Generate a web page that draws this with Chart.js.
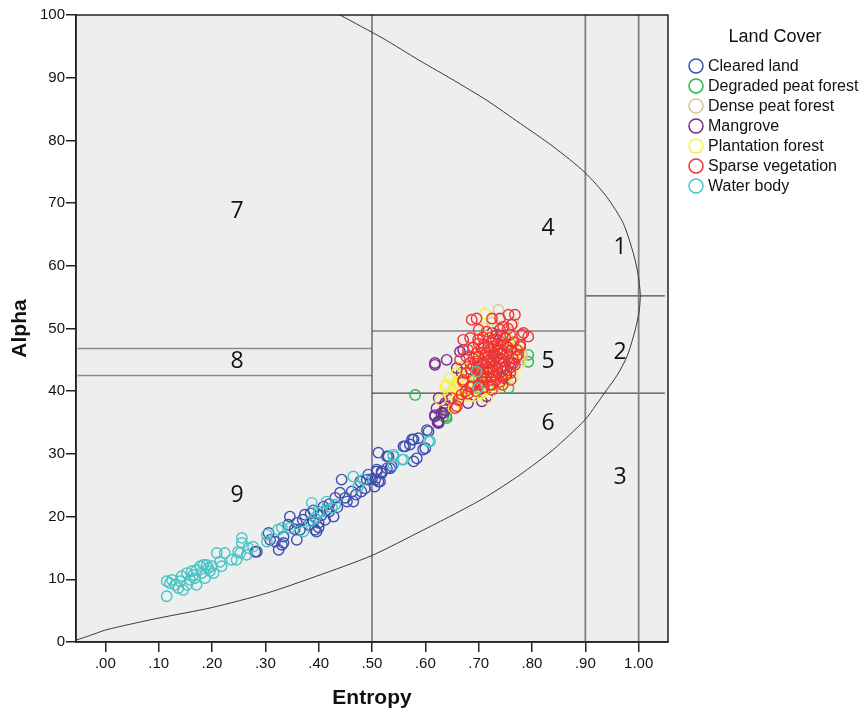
<!DOCTYPE html>
<html>
<head>
<meta charset="utf-8">
<script src="https://cdn.jsdelivr.net/npm/chart.js@4.4.0/dist/chart.umd.min.js"></script>
<style>
  body { margin: 0; background: #fff; }
</style>
</head>
<body>
<canvas id="chart" width="861" height="711"></canvas>
<script>
// tick values
const entropyTicks = [0, 0.1, 0.2, 0.3, 0.4, 0.5, 0.6, 0.7, 0.8, 0.9, 1.0];
const alphaTicks = [0, 10, 20, 30, 40, 50, 60, 70, 80, 90, 100];

const landCovers = ['Cleared land', 'Degraded peat forest', 'Dense peat forest', 'Mangrove',
                    'Plantation forest', 'Sparse vegetation', 'Water body'];

// [entropy, alpha] per land cover
const clearedLand = [
  [0.281,14.4],[0.306,17.4],[0.325,14.7],[0.334,15.8],[0.284,14.4],[0.309,16.3],[0.318,16.0],
  [0.331,15.5],[0.334,16.8],[0.343,18.7],[0.346,20.0],[0.359,19.0],[0.365,17.9],[0.374,20.3],
  [0.381,18.7],[0.393,17.9],[0.400,19.0],[0.409,21.6],[0.412,19.5],[0.428,20.0],[0.431,23.0],
  [0.440,23.8],[0.443,25.9],[0.453,22.4],[0.462,24.0],[0.465,22.4],[0.478,25.6],[0.487,24.5],
  [0.493,26.7],[0.509,27.2],[0.512,25.6],[0.518,26.9],[0.528,27.7],[0.359,16.3],[0.396,17.6],
  [0.512,30.2],[0.578,32.3],[0.562,31.2],[0.578,28.8],[0.531,29.6],[0.537,28.0],[0.515,25.6],
  [0.528,29.6],[0.509,27.5],[0.518,27.2],[0.534,27.7],[0.490,25.9],[0.506,25.9],[0.559,31.2],
  [0.571,31.5],[0.575,32.3],[0.587,32.5],[0.596,30.7],[0.606,33.6],[0.584,29.3],[0.625,34.9],
  [0.618,36.2],[0.603,33.8],[0.600,30.9],[0.370,19.5],[0.385,20.5],[0.390,19.2],[0.405,20.2],
  [0.415,21.0],[0.420,22.0],[0.435,21.5],[0.450,23.0],[0.470,23.5],[0.480,24.0],[0.355,18.0],
  [0.390,21.0],[0.400,18.3],[0.420,20.8],[0.500,26.0],[0.505,24.8]
];
const degradedPeat = [
  [0.581,39.4],[0.793,45.8],[0.756,40.5],[0.793,44.7],[0.640,35.7],[0.639,36.0],[0.634,36.0],
  [0.760,47.5],[0.700,42.0],[0.730,41.5]
];
const densePeat = [
  [0.737,53.0],[0.725,50.9],[0.765,50.9],[0.778,45.0],[0.781,46.1],[0.734,41.0],[0.725,51.4],
  [0.762,50.6],[0.781,45.5],[0.750,49.5],[0.710,47.0],[0.760,43.0],[0.680,42.5]
];
const mangrove = [
  [0.618,44.5],[0.640,45.0],[0.659,43.7],[0.671,46.6],[0.625,38.9],[0.621,37.3],[0.637,37.6],
  [0.646,38.6],[0.680,38.1],[0.706,38.4],[0.715,39.2],[0.752,43.4],[0.762,44.5],[0.728,48.2],
  [0.725,49.3],[0.668,42.9],[0.618,36.0],[0.634,36.5],[0.665,46.3],[0.752,42.6],[0.618,44.2],
  [0.637,38.1],[0.630,36.5],[0.690,39.4],[0.746,42.1],[0.623,35.0],[0.637,37.0],[0.625,35.2],
  [0.700,44.0],[0.720,43.0],[0.740,46.0],[0.690,41.0]
];
const plantation = [
  [0.637,40.7],[0.646,42.1],[0.650,40.0],[0.659,38.9],[0.628,38.6],[0.653,37.3],[0.671,39.4],
  [0.690,39.2],[0.665,40.7],[0.659,42.9],[0.668,43.9],[0.684,39.2],[0.709,40.0],[0.734,40.7],
  [0.752,41.5],[0.765,42.3],[0.778,44.5],[0.778,46.1],[0.756,48.2],[0.709,48.7],[0.715,50.3],
  [0.712,52.4],[0.680,41.5],[0.700,42.5],[0.720,44.0],[0.740,44.5],[0.760,45.5],[0.690,45.5],
  [0.730,47.0],[0.700,46.5],[0.660,41.5],[0.675,40.3],[0.720,42.0],[0.745,43.0],[0.770,47.0],
  [0.645,39.5],[0.655,40.5],[0.668,41.8],[0.680,43.2],[0.695,41.8],[0.705,39.6],[0.720,40.4],
  [0.640,41.0],[0.660,39.8],[0.715,38.8]
];
const sparseVeg = [
  [0.687,51.4],[0.696,51.6],[0.725,51.6],[0.740,51.6],[0.756,52.2],[0.768,52.2],[0.746,50.3],
  [0.762,50.6],[0.784,49.3],[0.793,48.7],[0.778,47.1],[0.671,48.2],[0.680,46.6],[0.665,45.0],
  [0.671,41.8],[0.687,40.7],[0.706,42.3],[0.725,41.0],[0.743,42.3],[0.774,45.8],[0.765,44.5],
  [0.659,37.6],[0.662,38.6],[0.650,38.9],[0.684,48.5],[0.699,48.2],[0.677,45.5],[0.684,44.5],
  [0.677,42.9],[0.671,41.5],[0.684,40.7],[0.656,37.3],[0.734,49.0],[0.759,49.0],[0.781,49.0],
  [0.778,47.4],[0.771,45.5],[0.768,44.2],[0.759,42.9],[0.740,41.5],[0.721,41.0],[0.706,42.1],
  [0.703,43.4],[0.715,46.1],[0.728,47.1],[0.746,47.4],[0.752,45.8],[0.740,44.5],[0.728,43.4],
  [0.715,42.3],[0.734,45.5],[0.721,45.0],[0.709,44.5],[0.696,43.9],[0.700,45.5],[0.710,47.5],
  [0.720,48.5],[0.730,46.0],[0.740,46.5],[0.750,44.0],[0.760,46.5],[0.750,48.5],[0.690,47.0],
  [0.720,43.5],[0.730,44.0],[0.745,43.2],[0.710,43.0],[0.690,42.2],[0.700,41.0],[0.730,42.5],
  [0.760,43.8],[0.765,47.8],[0.755,50.0],[0.700,49.8],[0.715,49.5],[0.685,43.5],[0.725,44.6],
  [0.735,43.8],[0.712,45.8],[0.727,45.8],[0.742,45.2],[0.698,44.8],[0.745,48.9],[0.705,46.8],
  [0.668,39.5],[0.676,40.0],[0.695,46.0],[0.705,44.2],[0.715,44.8],[0.725,47.8],[0.735,47.6],
  [0.745,46.0],[0.755,47.0],[0.738,42.8],[0.722,42.2],[0.708,41.5],[0.718,45.5],[0.728,44.9],
  [0.738,45.0],[0.748,44.8],[0.758,44.6],[0.708,48.6],[0.718,47.0],[0.732,48.3],[0.742,47.8],
  [0.752,47.2],[0.690,44.0],[0.700,43.2],[0.712,41.9],[0.726,43.0],[0.736,46.8],[0.764,45.2],
  [0.772,46.6],[0.700,47.6],[0.690,45.2],[0.717,43.7],[0.733,41.8],[0.750,42.5],[0.745,41.0],
  [0.760,41.8],[0.725,40.2],[0.710,40.6],[0.680,39.6],[0.695,40.0],[0.720,46.6],[0.740,49.8]
];
const waterBody = [
  [0.115,7.3],[0.115,9.7],[0.125,9.9],[0.131,9.1],[0.137,8.6],[0.143,10.5],[0.146,8.3],
  [0.153,11.0],[0.159,9.9],[0.162,11.3],[0.168,10.2],[0.171,9.1],[0.178,12.1],[0.181,11.0],
  [0.187,10.2],[0.184,12.3],[0.193,11.8],[0.200,12.1],[0.203,11.0],[0.209,14.2],[0.218,12.1],
  [0.224,14.2],[0.237,13.1],[0.246,13.1],[0.249,14.4],[0.256,16.6],[0.256,15.8],[0.253,14.2],
  [0.265,13.9],[0.268,15.0],[0.277,15.2],[0.303,17.1],[0.303,16.0],[0.121,9.4],[0.140,9.7],
  [0.153,9.1],[0.165,10.7],[0.171,11.5],[0.190,12.3],[0.196,11.3],[0.215,12.8],[0.324,17.9],
  [0.331,18.2],[0.346,18.2],[0.371,17.6],[0.387,22.2],[0.384,19.2],[0.400,20.6],[0.406,20.8],
  [0.415,22.4],[0.425,21.4],[0.431,21.9],[0.465,26.4],[0.474,24.8],[0.484,25.9],[0.540,28.3],
  [0.393,19.8],[0.540,29.6],[0.559,29.1],[0.540,29.9],[0.556,29.1],[0.606,32.0],[0.609,32.0],
  [0.696,43.1],[0.699,40.5]
];
const seriesData = [clearedLand, degradedPeat, densePeat, mangrove, plantation, sparseVeg, waterBody];
const seriesColors = ['#3f4fb0', '#2db54b', '#d3c89c', '#7a2a8c', '#f7f03c', '#f03434', '#47c4c4'];

// H-alpha feasible region boundary
const boundaryCurve = [
  [0.44,100],[0.52,96.3],[0.59,92.7],[0.655,89.5],[0.715,86.4],[0.778,82.7],[0.84,79.0],
  [0.899,74.9],[0.94,71.0],[0.971,66.8],[0.99,62.0],[0.999,58.6],[1.003,55.4],[1.001,52.8],
  [0.993,49.6],[0.978,45.5],[0.96,42.6],[0.94,40.2],[0.92,37.8],[0.899,35.4],[0.84,30.7],
  [0.778,26.7],[0.715,23.2],[0.65,20.2],[0.59,17.6],[0.5,13.8],[0.396,10.5],[0.303,7.8],
  [0.2,5.5],[0.099,3.8],[0.05,2.9],[0.0,1.9],[-0.03,1.0],[-0.055,0.3]
];
// zone boundaries [from, to]
const zoneLines = [
  [[0.5,0],[0.5,100]],
  [[0.9,0],[0.9,100]],
  [[1.0,0],[1.0,100]],
  [[-0.052,46.8],[0.5,46.8]],
  [[-0.052,42.5],[0.5,42.5]],
  [[0.5,49.6],[0.9,49.6]],
  [[0.5,39.7],[1.049,39.7]],
  [[0.9,55.2],[1.049,55.2]]
];
const zoneNames = ['1', '2', '3', '4', '5', '6', '7', '8', '9'];
const zoneCentres = [[0.965,63.0],[0.965,46.1],[0.965,26.2],[0.83,65.9],[0.83,44.8],[0.83,34.8],
                     [0.247,68.7],[0.247,44.8],[0.247,23.3]];

const toXY = pts => pts.map(p => ({ x: p[0], y: p[1] }));

const datasets = [];
seriesData.forEach((pts, i) => {
  datasets.push({
    label: landCovers[i],
    data: toXY(pts),
    borderColor: seriesColors[i],
    backgroundColor: 'rgba(0,0,0,0)',
    pointRadius: 5.2,
    pointBorderWidth: 1.4,
    showLine: false,
    order: seriesData.length - i
  });
});
zoneLines.forEach((seg, i) => {
  const vertical = seg[0][0] === seg[1][0];
  const grey = vertical && seg[0][0] > 0.6;
  datasets.push({
    label: 'zone' + i,
    data: toXY(seg),
    borderColor: grey ? '#808080' : (i === 3 || i === 4 ? '#8a8a8a' : '#4a4a4a'),
    borderWidth: grey ? 1.8 : (i === 3 || i === 4 ? 1.6 : 1.2),
    pointRadius: 0,
    showLine: true,
    order: 20
  });
});
datasets.push({
  label: 'boundary',
  data: toXY(boundaryCurve),
  borderColor: '#3a3a3a',
  borderWidth: 1,
  pointRadius: 0,
  showLine: true,
  tension: 0.25,
  order: 19
});

const plotStyle = {
  id: 'plotStyle',
  beforeDraw(chart) {
    const { ctx, chartArea: a } = chart;
    ctx.save();
    ctx.fillStyle = '#eeeeee';
    ctx.fillRect(a.left, a.top, a.right - a.left, a.bottom - a.top);
    ctx.restore();
  },
  afterDatasetsDraw(chart) {
    const { ctx, chartArea: a, scales } = chart;
    ctx.save();
    // zone numbers
    ctx.fillStyle = '#111';
    ctx.font = '23px "Open Sans"';
    ctx.textAlign = 'center';
    ctx.textBaseline = 'middle';
    zoneNames.forEach((n, i) => {
      ctx.fillText(n, scales.x.getPixelForValue(zoneCentres[i][0]), scales.y.getPixelForValue(zoneCentres[i][1]));
    });
    // frame
    ctx.strokeStyle = '#222';
    ctx.lineWidth = 1.5;
    ctx.strokeRect(a.left, a.top, a.right - a.left, a.bottom - a.top);
    ctx.restore();
  },
  afterDraw(chart) {
    const { ctx } = chart;
    ctx.save();
    ctx.fillStyle = '#111';
    ctx.font = '18px "Liberation Sans"';
    ctx.textAlign = 'center';
    ctx.textBaseline = 'middle';
    ctx.fillText('Land Cover', 775, 37);
    ctx.font = '16px "Liberation Sans"';
    ctx.textAlign = 'left';
    landCovers.forEach((name, i) => {
      const y = 66 + i * 20;
      ctx.beginPath();
      ctx.arc(696, y, 7, 0, Math.PI * 2);
      ctx.strokeStyle = seriesColors[i];
      ctx.lineWidth = 1.5;
      ctx.stroke();
      ctx.fillStyle = '#111';
      ctx.fillText(name, 708, y + 1);
    });
    ctx.restore();
  }
};

const tickFont = { family: 'Liberation Sans', size: 15 };

new Chart(document.getElementById('chart'), {
  type: 'scatter',
  data: { datasets: datasets },
  options: {
    responsive: false,
    animation: false,
    layout: { padding: { left: 0, top: 15, right: 193, bottom: 0 } },
    plugins: {
      legend: { display: false },
      tooltip: { enabled: false }
    },
    scales: {
      x: {
        type: 'linear',
        min: -0.055,
        max: 1.055,
        afterBuildTicks: s => { s.ticks = entropyTicks.map(v => ({ value: v })); },
        afterFit: s => { s.height = 69; },
        ticks: {
          color: '#111',
          font: tickFont,
          padding: 3,
          maxRotation: 0,
          callback: v => (v < 1 ? v.toFixed(2).replace(/^0/, '') : v.toFixed(2))
        },
        grid: { drawOnChartArea: false, drawTicks: true, tickLength: 10, color: '#222', lineWidth: 1.5 },
        border: { display: true, color: '#222', width: 1.5 },
        title: {
          display: true,
          text: 'Entropy',
          color: '#111',
          font: { family: 'Liberation Sans', size: 21, weight: 'bold' },
          padding: { top: 0, bottom: 0 }
        }
      },
      y: {
        type: 'linear',
        min: 0,
        max: 100,
        afterBuildTicks: s => { s.ticks = alphaTicks.map(v => ({ value: v })); },
        afterFit: s => { s.width = 76; },
        ticks: { color: '#111', font: tickFont, padding: 1 },
        grid: { drawOnChartArea: false, drawTicks: true, tickLength: 10, color: '#222', lineWidth: 1.5 },
        border: { display: true, color: '#222', width: 1.5 },
        title: {
          display: true,
          text: 'Alpha',
          color: '#111',
          font: { family: 'Liberation Sans', size: 21, weight: 'bold' },
          padding: { top: 8, bottom: 0 }
        }
      }
    }
  },
  plugins: [plotStyle]
});
</script>
</body>
</html>
